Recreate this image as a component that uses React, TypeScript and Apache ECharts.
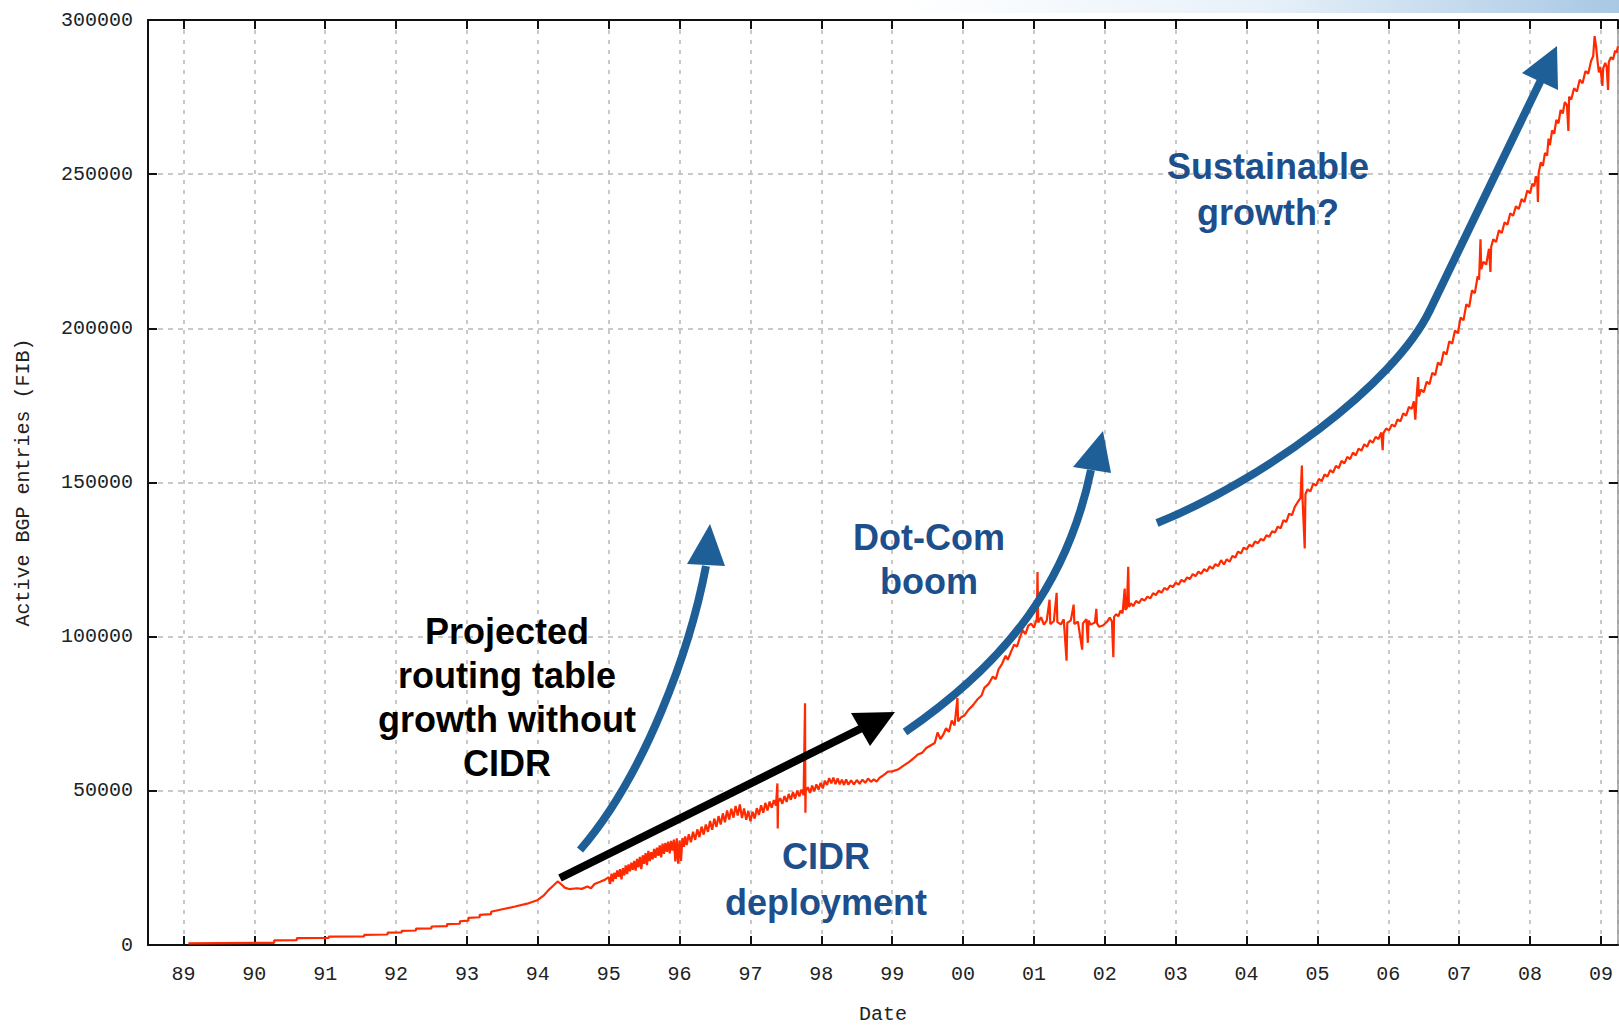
import React, { useEffect, useRef } from "react";
import * as echarts from "echarts";

// ---------- Data ----------
const X_MIN_YEAR = 1988.5;
const X_MAX_YEAR = 2009.24;
const Y_MAX = 300000;
const Y_STEP = 50000;

const X_AXIS_NAME = "Date";
const Y_AXIS_NAME = "Active BGP entries (FIB)";

// [decimal year, active BGP entries]
const bgpEarly: [number, number][] = [
  [1989.07, 500], [1989.55, 600], [1990.28, 700], [1990.28, 1500],
  [1990.6, 1600], [1990.6, 2200], [1991.05, 2300], [1991.05, 2700],
  [1991.55, 2800], [1991.55, 3300], [1991.88, 3400], [1991.88, 4000],
  [1992.08, 4100], [1992.08, 4600], [1992.28, 4700], [1992.28, 5300],
  [1992.5, 5400], [1992.5, 6000], [1992.72, 6100], [1992.72, 6800],
  [1992.9, 6900], [1992.9, 7700], [1993.02, 7900], [1993.02, 8800],
  [1993.18, 9000], [1993.18, 9800], [1993.34, 10000], [1993.34, 10800],
  [1993.5, 11600], [1993.68, 12500], [1993.85, 13400], [1994.0, 14600],
  [1994.08, 16000], [1994.15, 17800], [1994.22, 19300], [1994.28, 20600],
  [1994.33, 19700], [1994.38, 18600], [1994.45, 18100], [1994.55, 18400],
  [1994.62, 18200], [1994.7, 19000], [1994.75, 18400], [1994.8, 19800],
  [1994.88, 20500], [1994.95, 21200],
];

const bgpCidr: [number, number][] = [
  [1995.0, 22000], [1995.02, 19800], [1995.04, 23100], [1995.06, 20600],
  [1995.08, 23400], [1995.1, 21500], [1995.12, 24200], [1995.14, 22100],
  [1995.16, 24600], [1995.18, 21300], [1995.2, 24900], [1995.22, 22600],
  [1995.24, 25800], [1995.26, 23000], [1995.28, 26100], [1995.3, 23900],
  [1995.32, 26700], [1995.34, 24400], [1995.36, 27300], [1995.38, 24100],
  [1995.4, 27900], [1995.42, 25200], [1995.44, 28600], [1995.46, 24600],
  [1995.48, 29100], [1995.5, 26300], [1995.52, 29800], [1995.54, 25900],
  [1995.56, 30500], [1995.58, 27200], [1995.6, 30100], [1995.62, 27800],
  [1995.64, 31200], [1995.66, 28300], [1995.68, 31600], [1995.7, 28900],
  [1995.72, 32300], [1995.74, 28400], [1995.76, 32900], [1995.78, 29600],
  [1995.8, 33100], [1995.82, 30200], [1995.84, 33500], [1995.86, 29700],
  [1995.88, 33800], [1995.9, 30600], [1995.92, 34200], [1995.94, 27100],
  [1995.96, 34600], [1995.98, 26400], [1996.0, 33900], [1996.02, 27300],
  [1996.04, 34700], [1996.06, 31800], [1996.08, 35200], [1996.1, 32400],
  [1996.13, 35900], [1996.16, 33300], [1996.19, 36700], [1996.22, 34100],
  [1996.25, 37500], [1996.28, 35000], [1996.31, 38400], [1996.34, 35800],
  [1996.37, 39100], [1996.4, 36700], [1996.43, 40200], [1996.46, 37400],
  [1996.49, 41000], [1996.52, 38300], [1996.55, 41800], [1996.58, 39100],
  [1996.61, 42700], [1996.64, 39800], [1996.67, 43600], [1996.7, 40700],
  [1996.73, 44200], [1996.76, 41300], [1996.79, 45100], [1996.82, 42000],
  [1996.85, 45600], [1996.88, 41200], [1996.91, 44300], [1996.94, 40600],
  [1996.97, 43500], [1997.0, 40100], [1997.03, 43200], [1997.06, 41000],
  [1997.09, 44400], [1997.12, 42200], [1997.15, 45300], [1997.18, 42900],
  [1997.21, 46100], [1997.24, 43600], [1997.27, 46500], [1997.3, 44500],
  [1997.33, 47000], [1997.36, 45200], [1997.38, 52400], [1997.385, 37800],
  [1997.39, 46300], [1997.42, 47600], [1997.45, 45800], [1997.48, 48300],
  [1997.51, 46400], [1997.54, 49000], [1997.57, 47100], [1997.6, 49600],
  [1997.63, 47500], [1997.66, 50100], [1997.69, 48200], [1997.72, 50400],
  [1997.75, 48600], [1997.77, 78400], [1997.775, 42900], [1997.78, 49800],
  [1997.81, 51200], [1997.84, 49300], [1997.87, 51700], [1997.9, 49800],
  [1997.93, 52100], [1997.96, 50400], [1997.99, 52600], [1998.02, 50800],
  [1998.05, 53300], [1998.08, 51900], [1998.11, 54100], [1998.14, 52400],
  [1998.17, 54300], [1998.2, 52200], [1998.23, 54000], [1998.26, 52100],
  [1998.29, 53600], [1998.32, 51900], [1998.35, 53700], [1998.38, 52000],
  [1998.42, 53400], [1998.46, 52100], [1998.5, 53500], [1998.54, 52300],
  [1998.58, 53600], [1998.62, 52600], [1998.66, 54000], [1998.7, 52900],
  [1998.74, 53700], [1998.78, 53000], [1998.82, 54200], [1998.86, 54800],
  [1998.9, 55500], [1998.94, 56200],
];

const bgpDotCom: [number, number][] = [
  [1999.0, 56300], [1999.08, 56900], [1999.16, 58200], [1999.24, 59400],
  [1999.3, 60500], [1999.36, 61800], [1999.42, 62300], [1999.48, 63900],
  [1999.54, 64700], [1999.6, 65500], [1999.64, 68900], [1999.68, 66800],
  [1999.72, 68200], [1999.76, 70300], [1999.8, 69100], [1999.84, 72800],
  [1999.88, 71200], [1999.92, 80100], [1999.93, 72500], [1999.97, 73800],
  [2000.02, 74500], [2000.08, 76400], [2000.14, 77800], [2000.2, 79600],
  [2000.26, 80900], [2000.3, 83400], [2000.36, 84700], [2000.42, 87100],
  [2000.46, 86200], [2000.5, 89400], [2000.55, 91200], [2000.6, 93800],
  [2000.63, 92500], [2000.68, 95300], [2000.72, 97400], [2000.76, 96800],
  [2000.8, 99600], [2000.84, 102100], [2000.88, 100800], [2000.92, 103600],
  [2000.96, 104200], [2001.0, 102900], [2001.04, 105800], [2001.05, 121000],
  [2001.06, 104600], [2001.1, 106300], [2001.14, 103900], [2001.18, 105200],
  [2001.22, 112000], [2001.23, 104100], [2001.28, 105000], [2001.32, 114200],
  [2001.33, 104700], [2001.38, 104000], [2001.42, 105600], [2001.46, 92200],
  [2001.47, 104500], [2001.52, 105300], [2001.56, 110400], [2001.57, 104100],
  [2001.62, 104900], [2001.68, 95800], [2001.69, 104300], [2001.74, 105700],
  [2001.76, 98000], [2001.77, 105200], [2001.8, 103900], [2001.86, 104600],
  [2001.88, 109000], [2001.89, 104300], [2001.92, 103200], [2001.98, 103700],
];

const bgpLate: [number, number][] = [
  [2002.04, 105100], [2002.07, 106200], [2002.1, 104900], [2002.12, 93300],
  [2002.13, 106400], [2002.16, 107300], [2002.19, 106600], [2002.22, 108400],
  [2002.25, 107600], [2002.28, 115600], [2002.29, 108700], [2002.31, 109300],
  [2002.33, 122700], [2002.34, 109600], [2002.37, 110800], [2002.4, 109900],
  [2002.44, 111600], [2002.48, 110900], [2002.52, 112300], [2002.56, 111700],
  [2002.6, 113000], [2002.64, 112400], [2002.68, 114100], [2002.72, 113500],
  [2002.76, 114900], [2002.8, 114300], [2002.84, 115800], [2002.88, 115200],
  [2002.92, 116600], [2002.96, 116100], [2003.0, 117500], [2003.04, 116900],
  [2003.08, 118400], [2003.12, 117800], [2003.16, 119200], [2003.2, 118700],
  [2003.24, 120300], [2003.28, 119600], [2003.32, 121100], [2003.36, 120400],
  [2003.4, 121900], [2003.44, 121200], [2003.48, 122800], [2003.52, 122100],
  [2003.56, 123500], [2003.6, 122900], [2003.64, 124800], [2003.68, 123400],
  [2003.72, 125100], [2003.76, 124300], [2003.8, 126200], [2003.84, 125700],
  [2003.88, 127600], [2003.92, 127000], [2003.96, 128900], [2004.0, 128300],
  [2004.04, 129800], [2004.08, 129200], [2004.12, 130900], [2004.16, 130300],
  [2004.2, 131700], [2004.24, 131200], [2004.28, 132900], [2004.32, 132400],
  [2004.36, 134200], [2004.4, 133800], [2004.44, 135700], [2004.48, 135100],
  [2004.52, 137800], [2004.56, 137200], [2004.6, 139900], [2004.64, 139400],
  [2004.68, 142100], [2004.72, 143600], [2004.76, 144900], [2004.78, 155500],
  [2004.79, 144300], [2004.82, 128600], [2004.83, 146200], [2004.86, 147800],
  [2004.9, 147100], [2004.94, 149600], [2004.98, 149000], [2005.02, 151200],
  [2005.06, 150400], [2005.1, 152600], [2005.14, 151900], [2005.18, 154000],
  [2005.22, 153200], [2005.26, 155400], [2005.3, 154700], [2005.34, 157000],
  [2005.38, 156200], [2005.42, 158300], [2005.46, 157600], [2005.5, 159700],
  [2005.54, 158800], [2005.58, 161000], [2005.62, 160300], [2005.66, 162400],
  [2005.7, 161600], [2005.74, 163700], [2005.78, 162900], [2005.82, 164800],
  [2005.86, 164100], [2005.9, 166200], [2005.92, 160500], [2005.93, 166000],
  [2005.97, 167500], [2006.01, 166900], [2006.05, 168800], [2006.09, 168100],
  [2006.13, 170500], [2006.17, 169800], [2006.21, 172400], [2006.25, 171700],
  [2006.29, 174500], [2006.33, 173900], [2006.36, 176300], [2006.38, 170400],
  [2006.4, 178300], [2006.42, 184200], [2006.43, 177900], [2006.46, 180100],
  [2006.5, 179300], [2006.54, 182700], [2006.58, 181900], [2006.62, 185600],
  [2006.66, 184800], [2006.7, 188900], [2006.74, 188000], [2006.78, 192400],
  [2006.82, 191500], [2006.86, 195800], [2006.9, 195000], [2006.94, 199300],
  [2006.98, 198400], [2007.02, 203500], [2007.06, 202600], [2007.1, 207800],
  [2007.14, 206900], [2007.18, 212300], [2007.22, 211400], [2007.26, 216900],
  [2007.28, 215800], [2007.3, 228900], [2007.31, 219200], [2007.34, 221600],
  [2007.38, 220700], [2007.42, 225800], [2007.44, 218300], [2007.45, 226400],
  [2007.48, 228900], [2007.52, 228000], [2007.56, 231800], [2007.6, 230900],
  [2007.64, 234400], [2007.68, 233600], [2007.72, 237300], [2007.76, 236500],
  [2007.8, 239600], [2007.84, 238700], [2007.88, 241900], [2007.92, 241000],
  [2007.96, 244700], [2008.0, 243800], [2008.03, 246900], [2008.06, 246100],
  [2008.08, 249300], [2008.1, 248400], [2008.11, 241000], [2008.12, 250300],
  [2008.15, 253800], [2008.18, 252700], [2008.21, 256900], [2008.24, 256000],
  [2008.26, 261500], [2008.28, 259400], [2008.31, 264200], [2008.34, 263100],
  [2008.37, 267600], [2008.4, 266500], [2008.43, 270800], [2008.46, 269700],
  [2008.49, 273400], [2008.52, 272300], [2008.54, 264000], [2008.55, 275100],
  [2008.58, 274200], [2008.62, 277900], [2008.66, 276800], [2008.7, 280600],
  [2008.74, 279500], [2008.78, 283400], [2008.82, 282600], [2008.86, 286700],
  [2008.89, 288300], [2008.91, 294800], [2008.93, 291600], [2008.95, 287000],
  [2008.97, 283000], [2008.99, 284800], [2009.02, 278600], [2009.03, 284200],
  [2009.06, 286100], [2009.08, 284900], [2009.1, 277300], [2009.11, 286400],
  [2009.14, 287900], [2009.17, 287200], [2009.2, 290100], [2009.22, 289400],
  [2009.24, 291500],
];

const bgpSeries = [...bgpEarly, ...bgpCidr, ...bgpDotCom, ...bgpLate];

const noteProjected = "Projected\nrouting table\ngrowth without\nCIDR";
const noteCidr = "CIDR\ndeployment";
const noteDotCom = "Dot-Com\nboom";
const noteSustainable = "Sustainable\ngrowth?";

// ---------- Styles ----------
const RED = "#ff2a00";
const ARROW_BLUE = "#1f5f98";
const TEXT_BLUE = "#1c4f8b";
const MONO = '"Liberation Mono", "DejaVu Sans Mono", monospace';
const SANS = '"Liberation Sans", Arial, sans-serif';

const yearLabel = (v: number) => {
  const y = Math.round(v) % 100;
  return (y < 10 ? "0" : "") + y;
};
const plainNumber = (v: number) => String(Math.round(v));

export default function App() {
  const ref = useRef<HTMLDivElement>(null);

  useEffect(() => {
    if (!ref.current) return;
    const chart = echarts.init(ref.current, null, { renderer: "svg" });

    const axisBlack = { color: "#111", width: 2 };
    const noteText = (x: number, y: number, text: string, fill: string, lh: number) => ({
      type: "text",
      x,
      y,
      z: 110,
      silent: true,
      style: {
        text,
        fill,
        fontFamily: SANS,
        fontWeight: "bold",
        fontSize: 36,
        lineHeight: lh,
        align: "center",
        verticalAlign: "middle",
      },
    });

    chart.setOption({
      animation: false,
      backgroundColor: "#ffffff",
      grid: { left: 148, right: 1, top: 20, bottom: 87, containLabel: false },
      xAxis: [
        {
          type: "value",
          position: "bottom",
          min: X_MIN_YEAR,
          max: X_MAX_YEAR,
          minInterval: 1,
          maxInterval: 1,
          splitNumber: 21,
          name: X_AXIS_NAME,
          nameLocation: "middle",
          nameGap: 59,
          nameTextStyle: { fontFamily: MONO, fontSize: 20, color: "#222" },
          axisLine: { show: true, onZero: false, lineStyle: axisBlack },
          axisTick: { show: true, inside: true, length: 9, lineStyle: axisBlack },
          axisLabel: {
            margin: 19,
            fontFamily: MONO,
            fontSize: 20,
            color: "#222",
            showMinLabel: false,
            showMaxLabel: false,
            formatter: yearLabel,
          },
          splitLine: { show: true, lineStyle: { color: "#b8b8b8", type: [4, 6], width: 1.5 } },
        },
        {
          type: "value",
          position: "top",
          min: X_MIN_YEAR,
          max: X_MAX_YEAR,
          minInterval: 1,
          maxInterval: 1,
          splitNumber: 21,
          axisLine: { show: true, onZero: false, lineStyle: axisBlack },
          axisTick: { show: true, inside: true, length: 9, lineStyle: axisBlack },
          axisLabel: { show: false },
          splitLine: { show: false },
        },
      ],
      yAxis: [
        {
          type: "value",
          position: "left",
          min: 0,
          max: Y_MAX,
          interval: Y_STEP,
          name: Y_AXIS_NAME,
          nameLocation: "middle",
          nameGap: 115,
          nameTextStyle: { fontFamily: MONO, fontSize: 20, color: "#222" },
          axisLine: { show: true, onZero: false, lineStyle: axisBlack },
          axisTick: { show: true, inside: true, length: 9, lineStyle: axisBlack },
          axisLabel: { margin: 15, fontFamily: MONO, fontSize: 20, color: "#222", formatter: plainNumber },
          splitLine: { show: true, lineStyle: { color: "#b8b8b8", type: [5, 5], width: 1.5 } },
        },
        {
          type: "value",
          position: "right",
          min: 0,
          max: Y_MAX,
          interval: Y_STEP,
          axisLine: { show: true, onZero: false, lineStyle: { color: "#999", width: 1.5 } },
          axisTick: { show: true, inside: true, length: 9, lineStyle: axisBlack },
          axisLabel: { show: false },
          splitLine: { show: false },
        },
      ],
      series: [
        {
          type: "line",
          xAxisIndex: 0,
          yAxisIndex: 0,
          data: bgpSeries,
          symbol: "none",
          showSymbol: false,
          lineStyle: { color: RED, width: 2.2 },
          z: 5,
        },
      ],
      graphic: [
        {
          type: "rect",
          silent: true,
          z: 1,
          shape: { x: 900, y: 0, width: 719, height: 13 },
          style: {
            fill: new echarts.graphic.LinearGradient(0, 0, 1, 0, [
              { offset: 0, color: "#ffffff" },
              { offset: 0.5, color: "#e8f1f9" },
              { offset: 1, color: "#a8c8e4" },
            ]),
          },
        },
        // black arrow (CIDR deployment)
        {
          type: "line",
          z: 100,
          silent: true,
          shape: { x1: 560, y1: 878, x2: 864, y2: 727 },
          style: { stroke: "#000", lineWidth: 8, lineCap: "butt" },
        },
        {
          type: "polygon",
          z: 100,
          silent: true,
          shape: { points: [[895, 712], [851, 713], [870, 746]] },
          style: { fill: "#000" },
        },
        // blue arrow 1 (projected growth)
        {
          type: "bezierCurve",
          z: 100,
          silent: true,
          shape: { x1: 580, y1: 850, cpx1: 645, cpy1: 775, cpx2: 690, cpy2: 650, x2: 706, y2: 566 },
          style: { stroke: ARROW_BLUE, lineWidth: 8, fill: "none", lineCap: "butt" },
        },
        {
          type: "polygon",
          z: 100,
          silent: true,
          shape: { points: [[710, 524], [687, 564], [725, 566]] },
          style: { fill: ARROW_BLUE },
        },
        // blue arrow 2 (dot-com boom)
        {
          type: "bezierCurve",
          z: 100,
          silent: true,
          shape: { x1: 905, y1: 732, cpx1: 1010, cpy1: 660, cpx2: 1068, cpy2: 580, x2: 1091, y2: 470 },
          style: { stroke: ARROW_BLUE, lineWidth: 8, fill: "none", lineCap: "butt" },
        },
        {
          type: "polygon",
          z: 100,
          silent: true,
          shape: { points: [[1103, 431], [1073, 467], [1111, 473]] },
          style: { fill: ARROW_BLUE },
        },
        // blue arrow 3 (sustainable growth)
        {
          type: "bezierCurve",
          z: 100,
          silent: true,
          shape: { x1: 1157, y1: 523, cpx1: 1262, cpy1: 481, cpx2: 1394, cpy2: 385, x2: 1430, y2: 310 },
          style: { stroke: ARROW_BLUE, lineWidth: 8, fill: "none", lineCap: "butt" },
        },
        {
          type: "line",
          z: 100,
          silent: true,
          shape: { x1: 1430, y1: 310, x2: 1540, y2: 82 },
          style: { stroke: ARROW_BLUE, lineWidth: 8, lineCap: "round" },
        },
        {
          type: "polygon",
          z: 101,
          silent: true,
          shape: { points: [[1557, 46], [1522, 73], [1558, 90]] },
          style: { fill: ARROW_BLUE },
        },
        noteText(507, 697, noteProjected, "#000000", 44),
        noteText(826, 879, noteCidr, TEXT_BLUE, 46),
        noteText(929, 559, noteDotCom, TEXT_BLUE, 44),
        noteText(1268, 189, noteSustainable, TEXT_BLUE, 46),
      ],
    });

    return () => chart.dispose();
  }, []);

  return (
    <div
      ref={ref}
      style={{ position: "fixed", left: 0, top: 0, width: 1619, height: 1032, background: "#fff" }}
    />
  );
}
